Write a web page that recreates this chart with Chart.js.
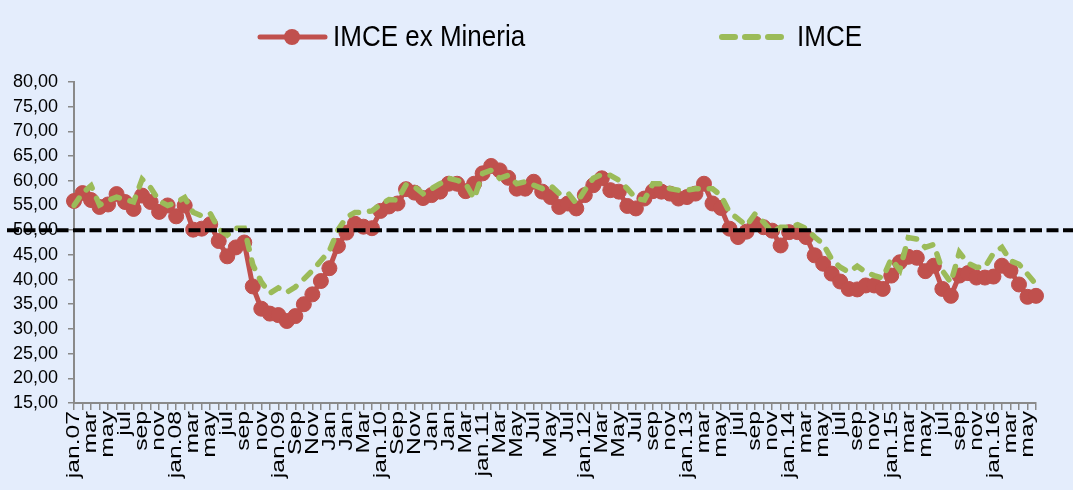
<!DOCTYPE html>
<html lang="es">
<head>
<meta charset="UTF-8">
<title>IMCE</title>
<script src="https://cdn.jsdelivr.net/npm/chart.js"></script>
<style>
    html, body { margin: 0; padding: 0; background: #e4edfc; }
</style>
</head>
<body>
<canvas id="myChart" width="1073" height="490"></canvas>
<script>
// etiquetas del eje x (una cada dos meses, tal como salen en el grafico)
const tickLabels = [
    'jan.07', 'mar', 'may', 'jul', 'sep', 'nov',
    'jan.08', 'mar', 'may', 'jul', 'sep', 'nov',
    'jan.09', 'Sep', 'Nov', 'Jan', 'Jan', 'Mar',
    'jan.10', 'Sep', 'Nov', 'Jan', 'Jan', 'Mar',
    'jan.11', 'Mar', 'May', 'Jul', 'May', 'Jul',
    'jan.12', 'Mar', 'May', 'Jul', 'sep', 'nov',
    'jan.13', 'mar', 'may', 'jul', 'sep', 'nov',
    'jan.14', 'mar', 'may', 'jul', 'sep', 'nov',
    'jan.15', 'mar', 'may', 'jul', 'sep', 'nov',
    'jan.16', 'mar', 'may'
];

// IMCE ex Mineria (mensual, ene.07 - jun.16)
const exMineria = [
    55.9, 57.5, 56.1, 54.7, 55.2, 57.3, 55.7, 54.3, 57.0, 55.7, 53.7, 55.0,
    52.8, 55.0, 50.1, 50.3, 51.2, 47.8, 44.7, 46.5, 47.5, 38.6, 34.1, 33.1,
    32.8, 31.6, 32.6, 35.0, 37.0, 39.7, 42.3, 46.8, 49.5, 51.3, 50.7, 50.4,
    53.9, 54.8, 55.4, 58.3, 57.6, 56.5, 57.1, 57.8, 59.4, 59.4, 57.9, 59.4,
    61.5, 63.0, 62.1, 60.6, 58.4, 58.4, 59.8, 57.8, 56.7, 54.7, 55.4, 54.4,
    57.1, 59.1, 60.5, 58.1, 57.8, 54.9, 54.4, 56.4, 57.9, 57.8, 57.4, 56.4,
    56.7, 57.4, 59.4, 55.4, 54.5, 50.3, 48.6, 49.7, 51.3, 50.6, 49.9, 46.9,
    49.6, 49.6, 48.6, 44.9, 43.2, 41.2, 39.6, 38.1, 38.0, 38.8, 38.8, 38.1,
    40.8, 43.5, 44.6, 44.4, 41.7, 42.8, 38.1, 36.7, 40.8, 41.3, 40.4, 40.4,
    40.6, 42.8, 41.8, 39.0, 36.5, 36.7
];

// IMCE total
const imce = [
    55.0, 57.5, 59.0, 55.1, 56.0, 56.7, 56.2, 55.7, 60.3, 58.6, 55.9, 55.0,
    55.6, 56.6, 53.6, 52.9, 53.4, 50.2, 49.0, 50.4, 50.4, 43.0, 39.5, 37.2,
    38.3, 37.4, 38.5, 40.1, 41.8, 43.8, 45.8, 50.0, 52.6, 53.6, 53.6, 53.9,
    55.2, 56.2, 56.1, 59.2, 58.8, 57.4, 58.4, 59.4, 60.5, 60.1, 59.4, 56.4,
    61.5, 62.1, 60.5, 61.1, 59.4, 59.8, 59.1, 58.4, 59.0, 57.4, 57.6, 55.4,
    58.1, 60.5, 61.3, 61.1, 60.1, 58.4, 56.4, 56.1, 59.4, 59.4, 58.4, 58.1,
    58.1, 58.4, 58.4, 58.4, 57.0, 53.6, 52.3, 50.9, 53.3, 51.6, 49.6, 50.6,
    50.6, 51.1, 50.3, 48.6, 47.2, 44.1, 42.5, 41.5, 42.7, 41.5, 40.8, 40.3,
    44.2, 41.9, 48.5, 48.2, 46.5, 47.1, 41.8, 39.4, 45.5, 43.3, 42.5, 42.5,
    45.3, 46.5, 43.8, 43.1, 41.1, 39.0
];

const yMin = 15, yMax = 80, yStep = 5;
const nivelNeutral = 50;   // linea punteada negra

// cada etiqueta visible va seguida de un mes sin texto
const categories = [];
tickLabels.forEach(function (t) { categories.push(t); categories.push(''); });

const colRojo = '#c0504d';
const colVerde = '#9bbb59';
const colEje = '#898989';
const colFondo = '#e4edfc';
const fuente = '"Liberation Sans", Arial, sans-serif';

// fondo celeste de todo el grafico
const fondoPlugin = {
    id: 'fondo',
    beforeDraw(chart) {
        const c = chart.ctx;
        c.save();
        c.fillStyle = colFondo;
        c.fillRect(0, 0, chart.width, chart.height);
        c.restore();
    }
};

// etiquetas del eje x: verticales y algo estiradas como en el original
const etiquetasXPlugin = {
    id: 'etiquetasX',
    afterDraw(chart) {
        const c = chart.ctx;
        const sx = chart.scales.x;
        c.save();
        c.fillStyle = '#000';
        c.font = '19px ' + fuente;
        c.textAlign = 'right';
        c.textBaseline = 'middle';
        categories.forEach(function (lab, i) {
            if (!lab) return;
            c.save();
            c.translate(sx.getPixelForTick(i), sx.top + 8);
            c.rotate(-Math.PI / 2);
            c.scale(1.3, 1);
            c.fillText(lab, 0, 0);
            c.restore();
        });
        c.restore();
    }
};

// linea de 50 que cruza todo el ancho (por encima de todo)
const neutralPlugin = {
    id: 'neutral',
    afterDraw(chart) {
        const c = chart.ctx;
        const y = chart.scales.y.getPixelForValue(nivelNeutral);
        c.save();
        c.strokeStyle = '#000';
        c.lineWidth = 4;
        c.setLineDash([12, 4.5]);
        c.beginPath();
        c.moveTo(7, y);
        c.lineTo(chart.width, y);
        c.stroke();
        c.restore();
    }
};

// leyenda dibujada a mano (linea con marcador / linea punteada)
const leyendaPlugin = {
    id: 'leyenda',
    afterDraw(chart) {
        const c = chart.ctx;
        const y = 37;
        c.save();
        c.lineCap = 'round';
        // serie 1
        c.strokeStyle = colRojo;
        c.lineWidth = 5;
        c.beginPath(); c.moveTo(260, y); c.lineTo(325, y); c.stroke();
        c.fillStyle = colRojo;
        c.beginPath(); c.arc(292, y, 8, 0, Math.PI * 2); c.fill();
        // serie 2
        c.strokeStyle = colVerde;
        c.lineWidth = 6;
        c.setLineDash([13, 10]);
        c.beginPath(); c.moveTo(722, y); c.lineTo(783, y); c.stroke();
        c.setLineDash([]);
        // textos
        c.fillStyle = '#000';
        c.font = '26px ' + fuente;
        c.textBaseline = 'middle';
        c.save();
        c.translate(333, y + 1);
        c.scale(1, 1.1);
        c.fillText('IMCE ex Mineria', 0, 0);
        c.restore();
        c.save();
        c.translate(797, y + 1);
        c.scale(1, 1.1);
        c.fillText('IMCE', 0, 0);
        c.restore();
        c.restore();
    }
};

const ctx = document.getElementById('myChart').getContext('2d');
const myChart = new Chart(ctx, {
    type: 'line',
    data: {
        labels: categories,
        datasets: [
            {
                label: 'IMCE',
                data: imce,
                borderColor: colVerde,
                borderWidth: 5.5,
                borderDash: [9, 11],
                borderCapStyle: 'round',
                pointRadius: 0,
                tension: 0,
                fill: false,
                order: 0
            },
            {
                label: 'IMCE ex Mineria',
                data: exMineria,
                borderColor: colRojo,
                backgroundColor: colRojo,
                borderWidth: 5,
                pointRadius: 7.5,
                pointBorderWidth: 1,
                pointBackgroundColor: colRojo,
                pointBorderColor: colRojo,
                tension: 0,
                fill: false,
                order: 1
            }
        ]
    },
    options: {
        responsive: false,
        animation: false,
        layout: { padding: { top: 82, left: 0, right: 37, bottom: 0 } },
        plugins: {
            legend: { display: false },
            tooltip: { enabled: false }
        },
        scales: {
            x: {
                offset: false,
                grid: {
                    drawOnChartArea: false,
                    color: colEje,
                    lineWidth: 1.5,
                    tickLength: 7
                },
                border: { color: colEje, width: 2 },
                ticks: {
                    display: false,
                    autoSkip: false
                },
                afterFit: function (scale) { scale.height = 87; }
            },
            y: {
                min: yMin,
                max: yMax,
                grid: {
                    drawOnChartArea: false,
                    color: colEje,
                    lineWidth: 1.5,
                    tickLength: 6
                },
                border: { color: colEje, width: 2 },
                ticks: {
                    stepSize: yStep,
                    padding: 10,
                    color: '#000',
                    font: { family: fuente, size: 18 },
                    callback: function (v) { return v.toFixed(2).replace('.', ','); }
                },
                afterFit: function (scale) { scale.width = 74; }
            }
        }
    },
    plugins: [fondoPlugin, etiquetasXPlugin, neutralPlugin, leyendaPlugin]
});
</script>
</body>
</html>
